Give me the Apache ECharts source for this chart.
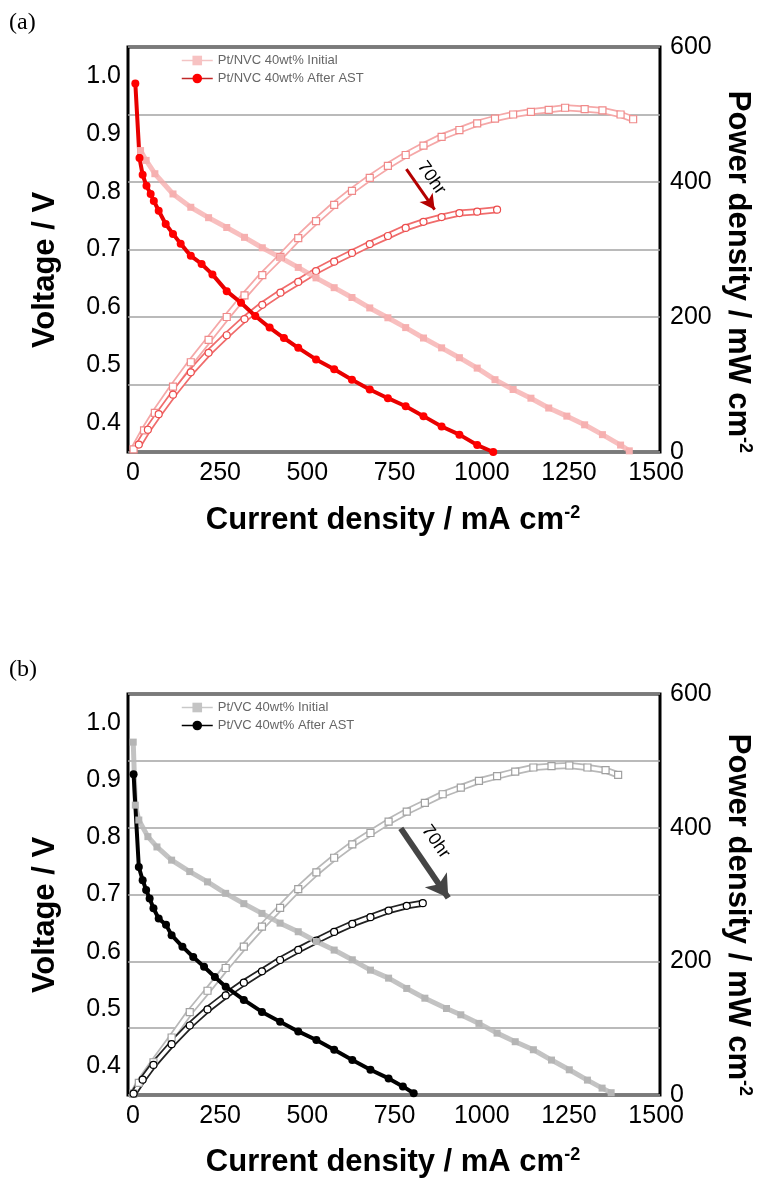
<!DOCTYPE html>
<html><head><meta charset="utf-8">
<script src="https://cdn.jsdelivr.net/npm/echarts@6/dist/echarts.min.js"></script>
<style>html,body{margin:0;padding:0;background:#fff}#chart{width:763px;height:1178px}</style>
</head><body><div id="chart"></div>
<script>
// ---------- tick labels ----------
const xTicks = [0, 250, 500, 750, 1000, 1250, 1500];
const vTicks = [0.4, 0.5, 0.6, 0.7, 0.8, 0.9, 1.0];
const pTicks = [0, 200, 400, 600];

// ---------- panel (a) Pt/NVC ----------
const aInitI = [22, 38, 63, 115, 166, 217, 269, 320, 371, 423, 474, 525, 577, 628, 679, 731, 782, 833, 885, 936, 987, 1038, 1090, 1141, 1192, 1244, 1295, 1346, 1398, 1423];
const aInitV = [0.871, 0.854, 0.831, 0.796, 0.773, 0.755, 0.738, 0.721, 0.703, 0.686, 0.669, 0.651, 0.634, 0.617, 0.599, 0.582, 0.565, 0.547, 0.530, 0.513, 0.495, 0.475, 0.458, 0.443, 0.426, 0.412, 0.397, 0.380, 0.362, 0.352];
const aInitPI = [2, 32, 63, 115, 166, 217, 269, 320, 371, 423, 474, 525, 577, 628, 679, 731, 782, 833, 885, 936, 987, 1038, 1090, 1141, 1192, 1239, 1295, 1346, 1398, 1434];
const aInitP = [4, 32, 58, 97, 133, 166, 200, 232, 262, 289, 317, 342, 366, 387, 406, 424, 440, 454, 467, 477, 487, 494, 500, 504, 507, 510, 508, 506, 500, 493];
const aAstI = [7, 19, 28, 39, 51, 60, 74, 94, 115, 137, 166, 197, 228, 269, 310, 351, 392, 433, 474, 525, 577, 628, 679, 731, 782, 833, 885, 936, 987, 1033];
const aAstV = [0.987, 0.858, 0.829, 0.810, 0.796, 0.784, 0.767, 0.744, 0.727, 0.710, 0.689, 0.675, 0.657, 0.628, 0.608, 0.585, 0.565, 0.547, 0.530, 0.510, 0.493, 0.475, 0.458, 0.443, 0.429, 0.412, 0.394, 0.380, 0.362, 0.350];
const aAstPI = [17, 43, 74, 115, 166, 217, 269, 320, 371, 423, 474, 525, 577, 628, 679, 731, 782, 833, 885, 936, 987, 1044];
const aAstP = [11, 33, 56, 85, 118, 147, 173, 197, 218, 236, 252, 268, 282, 295, 308, 320, 332, 341, 348, 354, 356, 359];

// ---------- panel (b) Pt/VC ----------
const bInitI = [1, 7, 17, 43, 69, 111, 163, 214, 266, 318, 370, 422, 474, 526, 577, 629, 681, 733, 785, 837, 899, 940, 992, 1044, 1096, 1148, 1200, 1251, 1303, 1345, 1371];
const bInitV = [0.966, 0.856, 0.830, 0.801, 0.783, 0.760, 0.740, 0.722, 0.702, 0.684, 0.667, 0.650, 0.635, 0.618, 0.603, 0.586, 0.568, 0.554, 0.536, 0.519, 0.501, 0.490, 0.475, 0.458, 0.443, 0.429, 0.411, 0.394, 0.376, 0.362, 0.354];
const bInitPI = [1, 17, 59, 111, 163, 214, 266, 318, 370, 422, 474, 526, 577, 629, 681, 733, 785, 837, 888, 940, 992, 1044, 1096, 1148, 1200, 1251, 1303, 1355, 1391];
const bInitP = [2, 18, 49, 86, 124, 156, 190, 222, 252, 280, 308, 333, 355, 375, 392, 409, 424, 437, 450, 460, 470, 477, 484, 490, 492, 493, 490, 486, 479];
const bAstI = [2, 17, 28, 38, 48, 59, 74, 95, 111, 142, 173, 204, 235, 266, 318, 370, 422, 474, 526, 577, 629, 681, 733, 774, 805];
const bAstV = [0.910, 0.748, 0.725, 0.708, 0.693, 0.676, 0.658, 0.647, 0.629, 0.609, 0.591, 0.574, 0.556, 0.539, 0.516, 0.495, 0.478, 0.461, 0.446, 0.429, 0.411, 0.394, 0.379, 0.365, 0.353];
const bAstPI = [2, 28, 59, 111, 163, 214, 266, 318, 370, 422, 474, 526, 577, 629, 681, 733, 785, 831];
const bAstP = [2, 23, 45, 76, 104, 128, 149, 168, 185, 202, 217, 231, 244, 256, 266, 276, 283, 287];

// ---------- annotations (data coordinates: current, power) ----------
const aArrow = [[784, 419], [865, 359]];
const bArrow = [[768, 399], [904, 295]];
const aLabelAt = [856, 406];
const bLabelAt = [868, 379];

const zip = (a, b) => a.map((v, i) => [v, b[i]]);
const FONT = '"Liberation Sans", Arial, sans-serif';

const chart = echarts.init(document.getElementById('chart'));

function xAxisFor(gi) {
  return {
    type: 'value', gridIndex: gi, min: -14, max: 1511,
    axisLine: { show: false }, axisTick: { show: false }, splitLine: { show: false },
    axisLabel: { customValues: xTicks, formatter: v => String(Math.round(v)), fontSize: 25, color: '#000', margin: 9, fontFamily: FONT }
  };
}
function yLeftFor(gi) {
  return {
    type: 'value', gridIndex: gi, position: 'left', min: 0.35, max: 1.05,
    axisLine: { show: false }, axisTick: { show: false }, splitLine: { show: false },
    axisLabel: { customValues: vTicks, formatter: v => v.toFixed(1), fontSize: 25, color: '#000', margin: 7, fontFamily: FONT }
  };
}
function yRightFor(gi) {
  return {
    type: 'value', gridIndex: gi, position: 'right', min: 0, max: 600, interval: 100,
    axisLine: { show: false }, axisTick: { show: false },
    splitLine: { show: true, lineStyle: { color: '#a3a3a3', width: 1.5 } },
    axisLabel: { customValues: pTicks, formatter: v => String(Math.round(v)), fontSize: 25, color: '#000', margin: 10, fontFamily: FONT }
  };
}

function powerSeries(id, xi, yi, data, sym, edge, band) {
  return [
    { name: id + '_band', type: 'line', xAxisIndex: xi, yAxisIndex: yi, data: data, showSymbol: false, silent: true,
      lineStyle: { color: band, width: 7 } },
    { name: id, type: 'line', xAxisIndex: xi, yAxisIndex: yi, data: data, symbol: sym, symbolSize: 7,
      itemStyle: { color: '#fff', borderColor: edge, borderWidth: 1.2 }, lineStyle: { color: '#fff', width: 3.5 } }
  ];
}

const series = [];
// panel a
series.push(...powerSeries('aInitP', 0, 1, zip(aInitPI, aInitP), 'rect', '#f08a8a', '#f5a8a8'));
const aAstPs = powerSeries('aAstP', 0, 1, zip(aAstPI, aAstP), 'circle', '#ec4c4c', '#f06c6c');
aAstPs[1].markLine = { silent: true, symbol: ['none', 'arrow'], symbolSize: [12, 15], label: { show: false },
  lineStyle: { color: '#b30000', width: 3, type: 'solid' },
  data: [[{ coord: aArrow[0] }, { coord: aArrow[1] }]] };
series.push(...aAstPs);
series.push({ name: 'Pt/NVC 40wt% Initial', type: 'line', xAxisIndex: 0, yAxisIndex: 0, data: zip(aInitI, aInitV),
  symbol: 'rect', symbolSize: 7, itemStyle: { color: '#f6b0b0' }, lineStyle: { color: 'rgba(245,170,170,0.75)', width: 5 } });
series.push({ name: 'Pt/NVC 40wt% After AST', type: 'line', xAxisIndex: 0, yAxisIndex: 0, data: zip(aAstI, aAstV),
  symbol: 'circle', symbolSize: 8, itemStyle: { color: '#ff0000' }, lineStyle: { color: '#e80000', width: 4 } });
// panel b
series.push(...powerSeries('bInitP', 1, 3, zip(bInitPI, bInitP), 'rect', '#a0a0a0', '#b8b8b8'));
const bAstPs = powerSeries('bAstP', 1, 3, zip(bAstPI, bAstP), 'circle', '#000', '#222');
bAstPs[1].markLine = { silent: true, symbol: ['none', 'arrow'], symbolSize: [20, 22], label: { show: false },
  lineStyle: { color: '#454545', width: 6, type: 'solid' },
  data: [[{ coord: bArrow[0] }, { coord: bArrow[1] }]] };
series.push(...bAstPs);
series.push({ name: 'Pt/VC 40wt% Initial', type: 'line', xAxisIndex: 1, yAxisIndex: 2, data: zip(bInitI, bInitV),
  symbol: 'rect', symbolSize: 7, itemStyle: { color: '#b5b5b5' }, lineStyle: { color: 'rgba(185,185,185,0.85)', width: 5 } });
series.push({ name: 'Pt/VC 40wt% After AST', type: 'line', xAxisIndex: 1, yAxisIndex: 2, data: zip(bAstI, bAstV),
  symbol: 'circle', symbolSize: 8, itemStyle: { color: '#000' }, lineStyle: { color: '#000', width: 4 } });

const legendBase = { orient: 'vertical', left: 176, itemWidth: 31, itemHeight: 12, itemGap: 5,
  textStyle: { fontSize: 13, color: '#666', fontFamily: FONT } };

chart.setOption({
  animation: false,
  backgroundColor: '#fff',
  grid: [
    { left: 128, top: 47, width: 532, height: 405, show: true, borderColor: '#000', borderWidth: 3, backgroundColor: 'rgba(0,0,0,0)' },
    { left: 128, top: 694, width: 532, height: 401, show: true, borderColor: '#000', borderWidth: 3, backgroundColor: 'rgba(0,0,0,0)' }
  ],
  xAxis: [xAxisFor(0), xAxisFor(1)],
  yAxis: [yLeftFor(0), yRightFor(0), yLeftFor(1), yRightFor(1)],
  legend: [
    Object.assign({}, legendBase, { top: 49, data: [
      { name: 'Pt/NVC 40wt% Initial', lineStyle: { width: 1.5, color: '#f3c4c4' }, itemStyle: { color: '#f7c2c2' } },
      { name: 'Pt/NVC 40wt% After AST', lineStyle: { width: 1.5, color: '#c02828' }, itemStyle: { color: '#ff0000' } }
    ] }),
    Object.assign({}, legendBase, { top: 696, data: [
      { name: 'Pt/VC 40wt% Initial', lineStyle: { width: 1.5, color: '#c8c8c8' }, itemStyle: { color: '#c4c4c4' } },
      { name: 'Pt/VC 40wt% After AST', lineStyle: { width: 1.5, color: '#000' }, itemStyle: { color: '#000' } }
    ] })
  ],
  series: series
});

const aL = chart.convertToPixel({ xAxisIndex: 0, yAxisIndex: 1 }, aLabelAt);
const bL = chart.convertToPixel({ xAxisIndex: 1, yAxisIndex: 3 }, bLabelAt);

function title(x, y, rot, main, sup) {
  return { type: 'text', x: x, y: y, rotation: rot, silent: true,
    style: { text: '{m|' + main + '}' + (sup ? '{s|' + sup + '}' : ''), align: 'center', verticalAlign: 'middle',
      rich: { m: { fontSize: 31, fontWeight: 'bold', fontFamily: FONT, fill: '#000' },
              s: { fontSize: 18, fontWeight: 'bold', fontFamily: FONT, fill: '#000', verticalAlign: 'top' } } } };
}
function plain(x, y, rot, text, font) {
  return { type: 'text', x: x, y: y, rotation: rot, silent: true,
    style: { text: text, font: font, fill: '#000', align: 'center', verticalAlign: 'middle' } };
}

chart.setOption({
  graphic: [
    { type: 'text', x: 9, y: 11, silent: true, style: { text: '(a)', font: '24px "Liberation Serif", serif', fill: '#000', verticalAlign: 'top' } },
    { type: 'text', x: 9, y: 658, silent: true, style: { text: '(b)', font: '24px "Liberation Serif", serif', fill: '#000', verticalAlign: 'top' } },
    title(45, 270, Math.PI / 2, 'Voltage / V'),
    title(45, 915, Math.PI / 2, 'Voltage / V'),
    title(738, 272, -Math.PI / 2, 'Power density / mW cm', '-2'),
    title(738, 915, -Math.PI / 2, 'Power density / mW cm', '-2'),
    title(393, 520, 0, 'Current density / mA cm', '-2'),
    title(393, 1162, 0, 'Current density / mA cm', '-2'),
    plain(aL[0], aL[1], -0.96, '70hr', '18px ' + FONT),
    plain(bL[0], bL[1], -0.96, '70hr', '18px ' + FONT)
  ]
});
</script>
</body></html>
